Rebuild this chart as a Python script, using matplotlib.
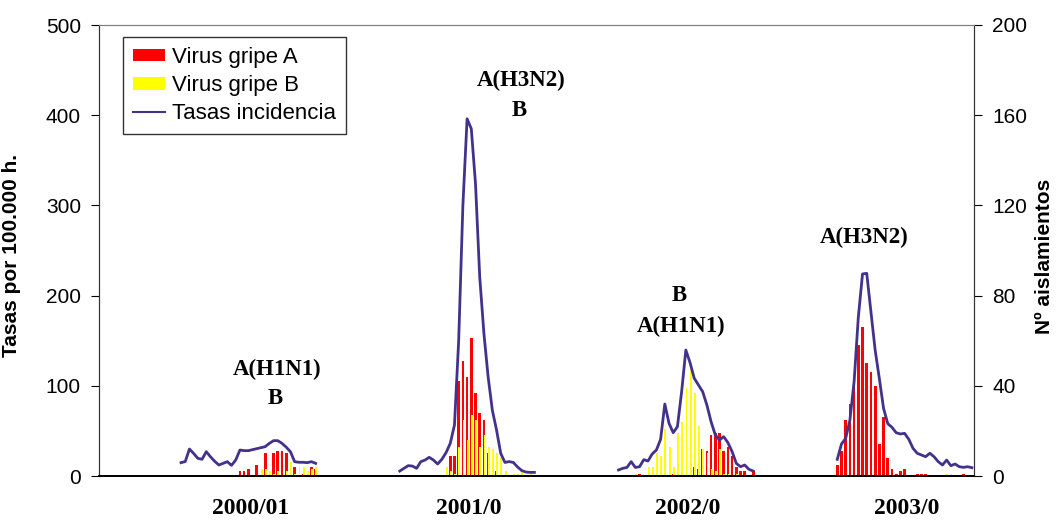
import numpy as np
import matplotlib
matplotlib.use('Agg')
import matplotlib.pyplot as plt
from matplotlib.patches import Patch
from matplotlib.lines import Line2D

# datos semanales por temporada (33 semanas: 40 .. 20)
temporadas = ['2000/01', '2001/0', '2002/0', '2003/0']

tasas_s1 = [14.8, 16, 29.9, 25, 19.6, 18.5, 27, 21.3, 16.3, 12.2, 14, 15.9, 11.8, 17.7, 28.8, 28.1, 28.1,
            29.2, 30.3, 31.4, 32.5, 36.2, 39.2, 39.2, 36.2, 32, 27, 15.9, 15.2, 15.2, 14.8, 15.9, 14]
tasas_s2 = [5.5, 8.5, 11.5, 11, 8.5, 15.9, 17.7, 20.7, 17.7, 13.3, 18.5, 25.9, 36.2, 56.5, 150, 300, 396,
            385, 324, 221, 158, 110, 73, 51, 25, 15, 16, 15, 10, 6, 4.4, 4, 4]
tasas_s3 = [6.7, 8.5, 9.5, 15.9, 9.5, 10.3, 18.1, 16.6, 24.4, 28.8, 40.6, 79.8, 58.4, 48, 54.7, 93.5, 139.7,
            125.6, 108.3, 100.9, 93.5, 78.7, 60.2, 45.5, 39.9, 43.6, 37, 27, 14, 10.3, 12.2, 7.4, 5.5]
tasas_s4 = [18.5, 35.5, 41.8, 62, 104.6, 176, 224, 224.7, 182, 139.7, 108, 75, 58, 54, 48, 46.6, 47.3,
            40.7, 30.7, 25.2, 23.3, 21.4, 25.2, 21.4, 15.9, 12.2, 17.7, 11.4, 13.3, 10.3, 9.6, 10.3, 9.2]

gripe_a_s1 = [0] * 14 + [2, 2, 3, 0, 5, 0, 10, 0, 10, 11, 11, 10, 0, 4, 0, 1, 0, 4, 3]
gripe_b_s1 = [0] * 19 + [3, 3, 2, 1, 2, 0, 2, 6, 1, 4, 4, 2, 3, 4]
gripe_a_s2 = [0] * 12 + [9, 9, 42, 51, 44, 61, 37, 28, 25, 10, 0, 2] + [0] * 9
gripe_b_s2 = [0] * 11 + [4, 2, 1, 13, 25, 16, 27, 25, 13, 18, 13, 12, 10, 8, 2, 0, 1, 1, 3, 0, 1, 0]
gripe_a_s3 = [0, 0, 0, 0, 0, 1, 0, 0, 0, 0, 0, 0, 0, 1, 0, 0, 0, 0, 4, 3, 12, 11, 18, 19, 19, 11, 13, 9,
              4, 2, 2, 0, 2]
gripe_b_s3 = [0, 0, 0, 0, 1, 0, 0, 4, 4, 10, 9, 21, 13, 4, 19, 24, 39, 47, 37, 22, 12, 10, 3, 2, 12, 1, 1,
              0, 1, 0, 0, 0, 0]
gripe_a_s4 = [5, 11, 25, 32, 40, 58, 66, 50, 46, 40, 14, 26, 8, 3, 1, 2, 3, 0, 0, 1, 1, 1, 0, 0, 0, 0, 0,
              0, 0, 0, 1, 0, 0]
gripe_b_s4 = [0] * 26 + [1, 1, 0, 0, 0, 0, 0]

tasas = [tasas_s1, tasas_s2, tasas_s3, tasas_s4]
gripe_a = [gripe_a_s1, gripe_a_s2, gripe_a_s3, gripe_a_s4]
gripe_b = [gripe_b_s1, gripe_b_s2, gripe_b_s3, gripe_b_s4]

morado = '#43318C'
serif = 'Liberation Serif'
plt.rcParams['font.family'] = 'Liberation Sans'

fig = plt.figure(figsize=(10.61, 5.21), dpi=100)
ax1 = fig.add_axes([99 / 1061, 45 / 521, 875 / 1061, 451 / 521])  # barras (eje dcho)
ax2 = ax1.twinx()  # tasas (eje izdo)

for k in range(4):
    x = np.arange(33) + 52 * k + 19
    ax1.bar(x, gripe_a[k], width=0.65, color='#FF0000', linewidth=0)
    ax1.bar(x + 0.15, gripe_b[k], width=0.45, color='#FFFF00', linewidth=0)
    ax2.plot(x, tasas[k], color=morado, linewidth=2)

ax1.set_xlim(-0.5, 207.5)
ax1.set_ylim(0, 200)
ax2.set_ylim(0, 500)

ax1.yaxis.tick_right()
ax1.yaxis.set_label_position('right')
ax2.yaxis.tick_left()
ax2.yaxis.set_label_position('left')
ax1.set_yticks([0, 40, 80, 120, 160, 200])
ax2.set_yticks([0, 100, 200, 300, 400, 500])
ax1.tick_params(axis='y', labelsize=15, length=6, pad=7, direction='out', right=True, left=False)
ax2.tick_params(axis='y', labelsize=15, length=6, pad=7, direction='out', left=True, right=False)

ax1.set_xticks([35.5 + 52 * k for k in range(4)])
ax1.set_xticklabels(temporadas, fontfamily=serif, fontweight='bold', fontsize=17)
ax1.tick_params(axis='x', length=0, pad=16)

ax2.set_ylabel('Tasas por 100.000 h.', fontsize=15, fontweight='bold')
ax2.yaxis.set_label_coords(-0.089, 0.49)
ax1.set_ylabel('Nº aislamientos', fontsize=15, fontweight='bold')
ax1.yaxis.set_label_coords(1.07, 0.486)

for ax in (ax1, ax2):
    ax.spines['top'].set_color('#808080')
    ax.spines['left'].set_color('#333333')
    ax.spines['right'].set_color('#333333')
    ax.spines['bottom'].set_color('black')
    ax.spines['bottom'].set_linewidth(1.3)

# etiquetas de subtipos
notas = [('A(H1N1)', 41.8, 118.6), ('B', 41.3, 85.4),
         ('A(H3N2)', 99.8, 439), ('B', 99.4, 405),
         ('B', 137.4, 199.6), ('A(H1N1)', 137.8, 166.3),
         ('A(H3N2)', 181.5, 264.4)]
for txt, xx, yy in notas:
    ax2.text(xx, yy, txt, ha='center', va='center', fontfamily=serif, fontweight='bold', fontsize=16.5)

handles = [Patch(facecolor='#FF0000', edgecolor='none', label='Virus gripe A'),
           Patch(facecolor='#FFFF00', edgecolor='none', label='Virus gripe B'),
           Line2D([], [], color=morado, linewidth=1.5, label='Tasas incidencia')]
leg = ax2.legend(handles=handles, loc='upper left', bbox_to_anchor=(123 / 1061, 1 - 37 / 521),
                 bbox_transform=fig.transFigure, fontsize=16, frameon=True, fancybox=False,
                 borderaxespad=0, borderpad=0.45, handlelength=1.45, handleheight=0.5,
                 handletextpad=0.3, labelspacing=0.32)
leg.get_frame().set_edgecolor('black')
leg.get_frame().set_linewidth(1)

fig.savefig('out.png', dpi=100)
